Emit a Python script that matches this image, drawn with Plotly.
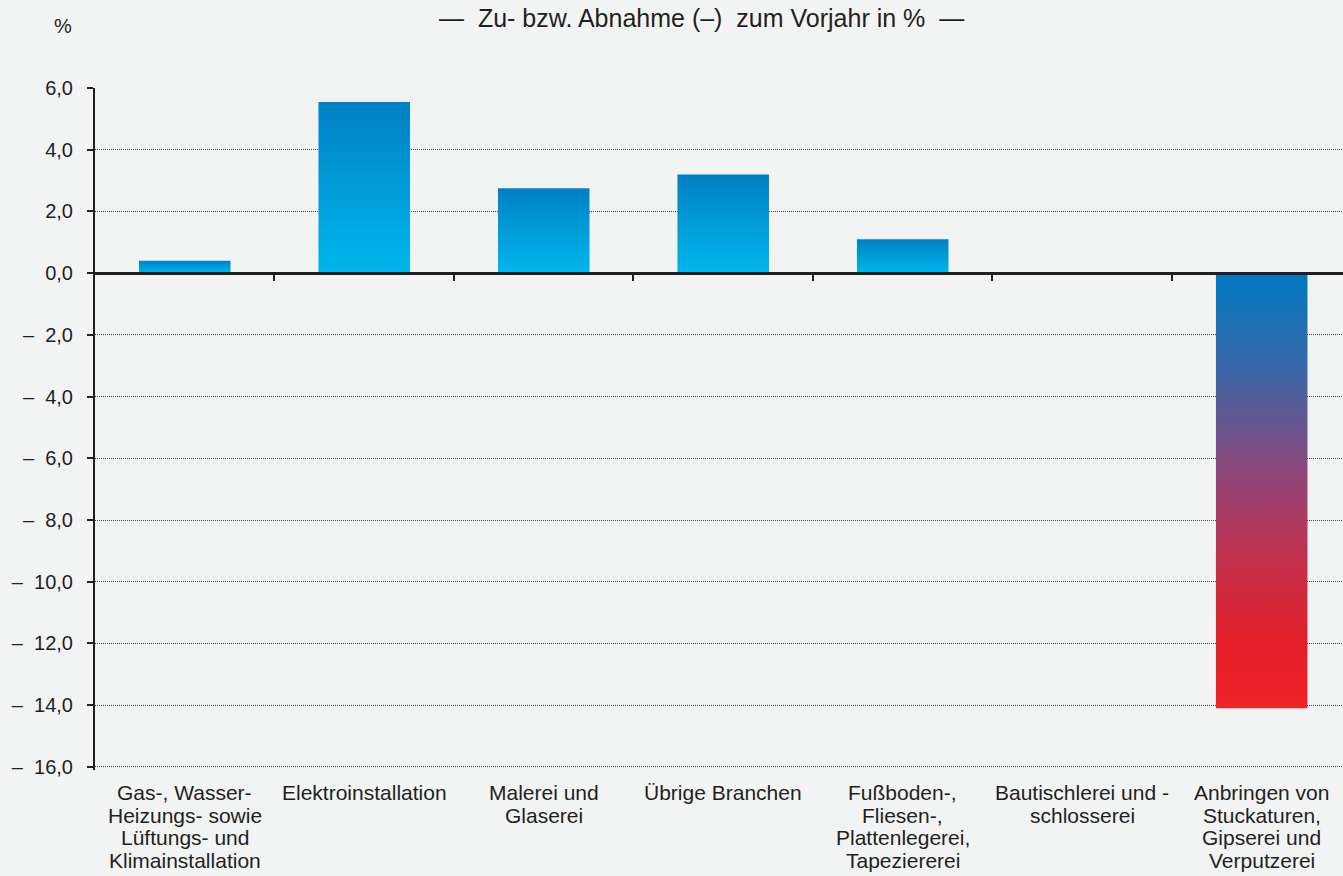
import plotly.graph_objects as go

categories = [
    "Gas-, Wasser-<br>Heizungs- sowie<br>Lüftungs- und<br>Klimainstallation",
    "Elektroinstallation",
    "Malerei und<br>Glaserei",
    "Übrige Branchen",
    "Fußboden-,<br>Fliesen-,<br>Plattenlegerei,<br>Tapeziererei",
    "Bautischlerei und -<br>schlosserei",
    "Anbringen von<br>Stuckaturen,<br>Gipserei und<br>Verputzerei",
]
values = [0.4, 5.55, 2.75, 3.2, 1.1, 0.0, -14.1]
y_ticks = [6, 4, 2, 0, -2, -4, -6, -8, -10, -12, -14, -16]
y_tick_labels = ["6,0", "4,0", "2,0", "0,0", "–\u00a0\u00a02,0", "–\u00a0\u00a04,0",
                 "–\u00a0\u00a06,0", "–\u00a0\u00a08,0", "–\u00a0\u00a010,0",
                 "–\u00a0\u00a012,0", "–\u00a0\u00a014,0", "–\u00a0\u00a016,0"]

TXT = "#231F20"
BG = "#F2F4F3"
GRID = "#454545"
FONT = "Liberation Sans, Arial, sans-serif"
BAR_W = 0.51

# plot-area geometry (pixels)
TOP, BOTTOM = 88, 770
PH = BOTTOM - TOP
LEFT, W = 95, 1343 - 95
Y_RANGE = [-16.1, 6]

def py2paper(py):
    return (BOTTOM - py) / PH

def px2paper(px):
    return (px - LEFT) / W

pos_scale = [[0, "#00B7EC"], [1, "#0080C4"]]
neg_scale = [[0, "#EF2227"], [0.15, "#E21F28"], [0.35, "#C2304E"],
             [0.55, "#8C487D"], [0.78, "#3A68A8"], [1, "#0079C1"]]

fig = go.Figure()
for i, v in enumerate(values):
    if v == 0:
        continue
    x0, x1 = i - BAR_W / 2, i + BAR_W / 2
    lo, hi = min(0, v), max(0, v)
    fig.add_trace(go.Scatter(
        x=[x0, x1, x1, x0, x0], y=[0, 0, v, v, 0],
        mode="lines", line=dict(width=0), fill="toself",
        fillgradient=dict(type="vertical", colorscale=pos_scale if v > 0 else neg_scale,
                          start=lo, stop=hi),
        hoverinfo="text", text=f"{v:.1f}".replace(".", ","), showlegend=False,
    ))

# invisible trace on the zero-line axis so it is drawn
fig.add_trace(go.Scatter(x=[0], y=[0], xaxis="x2", mode="markers",
                         marker=dict(opacity=0), hoverinfo="skip", showlegend=False))

annotations = [
    dict(text="—  Zu- bzw. Abnahme (–)  zum Vorjahr in %  —", xref="paper", yref="paper",
         x=px2paper(701), y=py2paper(18), xanchor="center", yanchor="middle",
         showarrow=False, font=dict(size=25, color=TXT)),
    dict(text="%", xref="paper", yref="paper", x=px2paper(63), y=py2paper(26),
         xanchor="center", yanchor="middle", showarrow=False,
         font=dict(size=20, color=TXT)),
]
LINE_H = 23
for i, cat in enumerate(categories):
    for j, line in enumerate(cat.split("<br>")):
        annotations.append(dict(
            text=line, xref="x", yref="paper", x=i, y=py2paper(792 + j * LINE_H),
            xanchor="center", yanchor="middle", showarrow=False,
            font=dict(size=21, color=TXT)))

xr = [-0.5, 6.453]
fig.update_layout(
    width=1343, height=876,
    margin=dict(l=LEFT, r=0, t=TOP, b=876 - BOTTOM),
    paper_bgcolor=BG, plot_bgcolor=BG,
    font=dict(family=FONT, color=TXT, size=20),
    showlegend=False,
    xaxis=dict(range=xr, showticklabels=False, showgrid=False, zeroline=False,
               showline=False, ticks="", automargin=False, fixedrange=True),
    xaxis2=dict(range=xr, overlaying="x", anchor="free",
                position=(0 - Y_RANGE[0]) / (Y_RANGE[1] - Y_RANGE[0]),
                tickmode="array", tickvals=[k + 0.5 for k in range(7)],
                showticklabels=False, ticks="outside", ticklen=6, tickwidth=2,
                tickcolor=TXT, showline=True, linewidth=3, linecolor=TXT,
                showgrid=False, zeroline=False, side="bottom"),
    yaxis=dict(range=Y_RANGE, tickmode="array", tickvals=y_ticks, ticktext=y_tick_labels,
               showgrid=True, gridcolor=GRID, gridwidth=1, griddash="1px,1px",
               zeroline=False, showline=True, linewidth=2, linecolor=TXT,
               ticks="outside", ticklen=6, tickwidth=2, tickcolor=TXT,
               ticklabelstandoff=10, tickfont=dict(size=20), automargin=False),
    annotations=annotations,
)
fig.write_html("out.html", config={"displayModeBar": False},
               post_script="document.body.style.margin='0';")
